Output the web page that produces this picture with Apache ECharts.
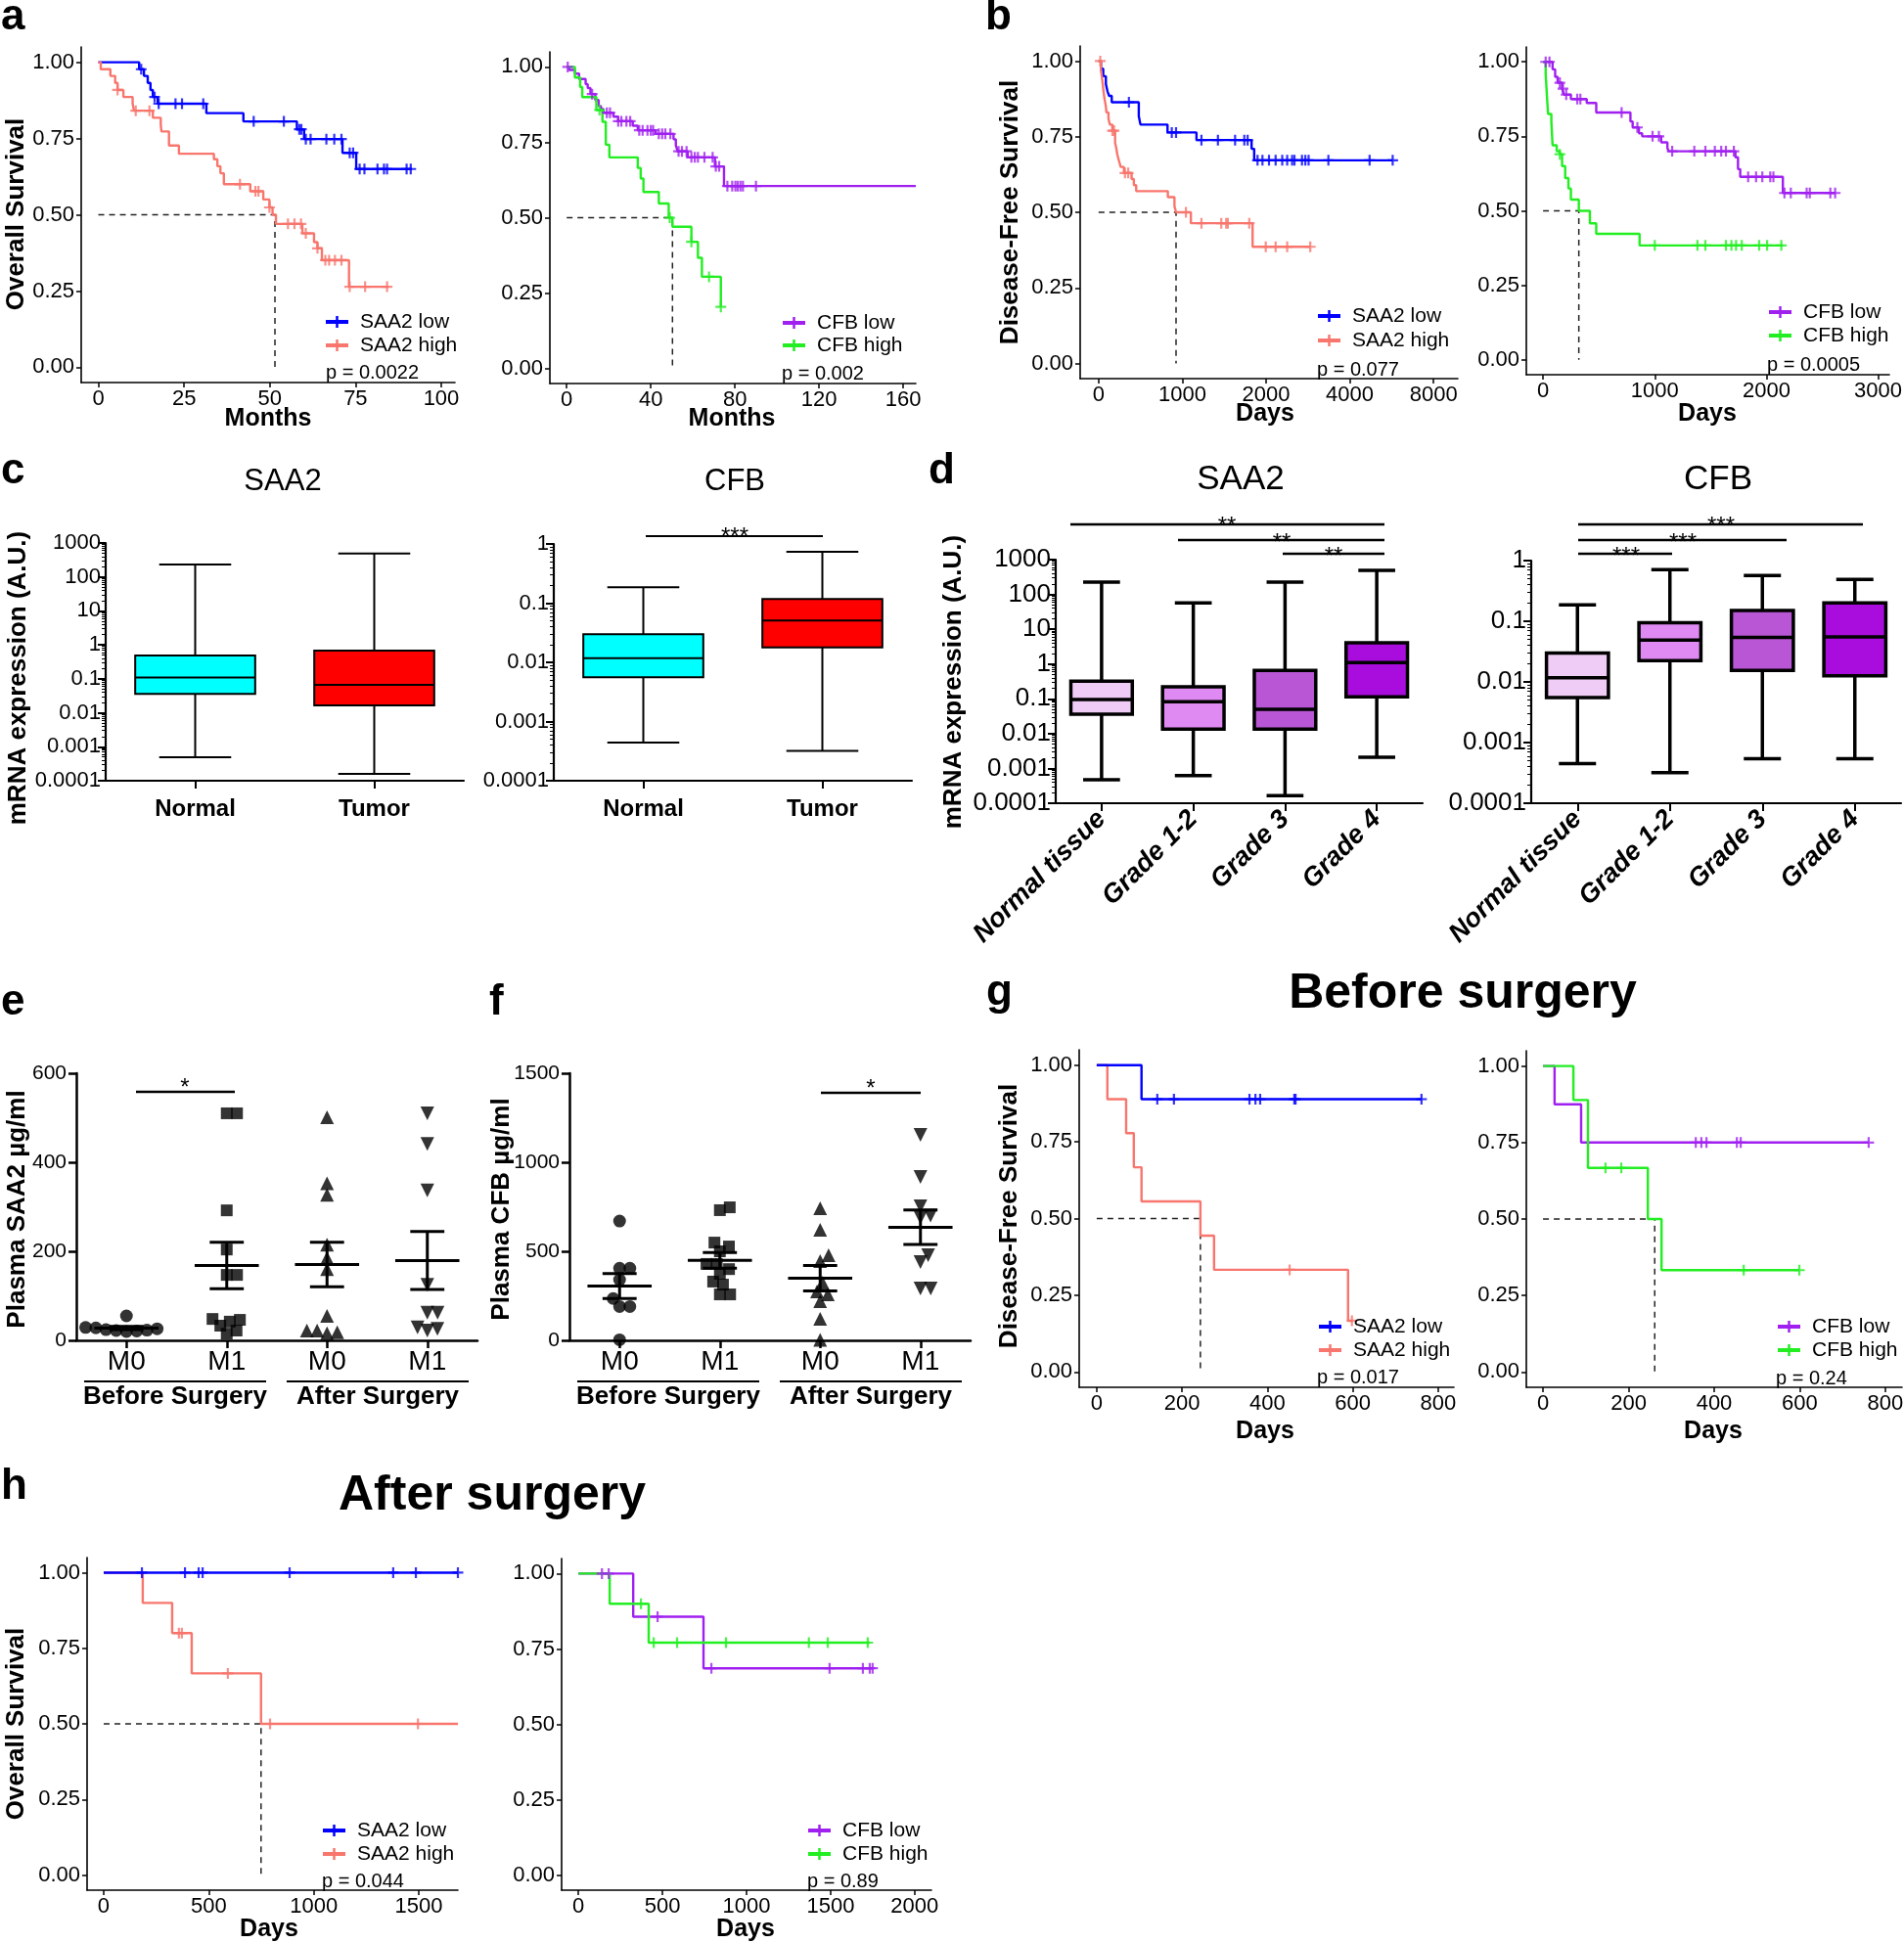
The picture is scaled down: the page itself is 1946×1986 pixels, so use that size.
<!DOCTYPE html>
<html>
<head>
<meta charset="utf-8">
<script src="https://cdn.jsdelivr.net/npm/echarts@6/dist/echarts.min.js"></script>
<style>
  html, body { margin: 0; background: #fff; }
  #chart { width: 1946px; height: 1986px; }
</style>
</head>
<body>
<div id="chart"></div>
<script>
const FONT = "'Liberation Sans', Arial, Helvetica, sans-serif"
const BLUE = '#0000ff', SALMON = '#f8766d', PURPLE = '#a020f0', GREEN = '#22ee22'

// ---- tick values / labels ----
const kmYTicks = [0, 0.25, 0.5, 0.75, 1]
const aLeftXTicks = [0, 25, 50, 75, 100]
const aRightXTicks = [0, 40, 80, 120, 160]
const bLeftXTicks = [0, 1000, 2000, 3000, 4000]
const bLeftXLabels = ['0', '1000', '2000', '4000', '8000']
const bRightXTicks = [0, 1000, 2000, 3000]
const gXTicks = [0, 200, 400, 600, 800]
const hLeftXTicks = [0, 500, 1000, 1500]
const hRightXTicks = [0, 500, 1000, 1500, 2000]
const saa2LogLabels = ['0.0001', '0.001', '0.01', '0.1', '1', '10', '100', '1000']
const cfbLogLabels = ['0.0001', '0.001', '0.01', '0.1', '1']

// ---- a: overall survival (months) ----
const aSaaLowTime = [0, 11.9, 13.3, 14.4, 15.2, 15.9, 17.3, 31.5, 42.3, 57.9, 60.0, 71.2, 75.2]
const aSaaLowSurv = [1, 0.977, 0.955, 0.932, 0.909, 0.886, 0.864, 0.833, 0.806, 0.78, 0.748, 0.703, 0.65]
const aSaaLowEnd = 91.4
const aSaaLowCensor = [12.5, 16.4, 17.6, 22.5, 24.4, 30.6, 45.3, 54.1, 58.6, 59.2, 60.5, 61.9, 66.5, 68.8, 70.9, 73.3, 74.3, 76.2, 77.6, 81.4, 83.3, 84.2, 89.9, 91.1]
const aSaaHighTime = [0, 0.7, 3.5, 4.9, 5.6, 7.3, 10.0, 10.4, 15.9, 18.2, 18.4, 20.6, 23.5, 33.7, 34.7, 35.6, 36.6, 44.3, 48.1, 49.9, 50.8, 51.8, 59.5, 62.9, 63.9, 65.2, 73.1]
const aSaaHighSurv = [1, 0.977, 0.955, 0.932, 0.909, 0.886, 0.864, 0.841, 0.818, 0.795, 0.773, 0.727, 0.70, 0.682, 0.659, 0.636, 0.60, 0.577, 0.55, 0.524, 0.50, 0.47, 0.439, 0.41, 0.39, 0.351, 0.264]
const aSaaHighEnd = 84.7
const aSaaHighCensor = [5.6, 10.9, 14.9, 41.3, 45.8, 46.7, 49.9, 55.3, 57.2, 59.1, 60.5, 63.9, 66.2, 67.3, 69.0, 70.9, 73.3, 77.8, 84.2]
const aSaaMedian = 51.5

const aCfbLowTime = [0, 1.2, 3.9, 5.9, 9.0, 10.0, 11.3, 13.6, 15.2, 16.3, 17.5, 22.2, 24.5, 31.4, 33.8, 42.3, 50.8, 51.9, 52.8, 57.5, 70.5, 74.8]
const aCfbLowSurv = [1, 0.99, 0.978, 0.96, 0.943, 0.93, 0.91, 0.89, 0.87, 0.86, 0.848, 0.835, 0.82, 0.805, 0.79, 0.778, 0.76, 0.74, 0.72, 0.70, 0.67, 0.605]
const aCfbLowEnd = 166
const aCfbLowCensor = [0.5, 12.1, 19.1, 20.6, 24.5, 26.0, 28.4, 30.2, 34.5, 36.1, 38.4, 40.0, 41.1, 43.8, 45.4, 46.9, 49.3, 53.2, 54.8, 57.0, 59.3, 60.9, 62.4, 65.5, 69.4, 70.9, 72.5, 76.4, 78.7, 80.2, 81.3, 82.6, 83.8, 90.0]
const aCfbHighTime = [0, 3.9, 6.4, 7.4, 14.1, 17.0, 18.6, 20.3, 33.8, 35.2, 36.5, 43.8, 48.5, 50.3, 59.3, 62.4, 64.3, 73.3]
const aCfbHighSurv = [1, 0.965, 0.933, 0.9, 0.857, 0.818, 0.742, 0.70, 0.665, 0.63, 0.585, 0.547, 0.5, 0.47, 0.42, 0.367, 0.304, 0.204]
const aCfbHighEnd = 73.3
const aCfbHighCensor = [15.6, 49.0, 59.3, 67.7, 73.3]
const aCfbMedian = 50.3

// ---- b: disease-free survival (days) ----
const bSaaLowTime = [0, 28, 55, 87, 106, 126, 157, 480, 500, 823, 1169, 1827, 1858]
const bSaaLowSurv = [1, 0.975, 0.95, 0.925, 0.9, 0.885, 0.864, 0.818, 0.79, 0.764, 0.739, 0.71, 0.672]
const bSaaLowEnd = 3512
const bSaaLowCensor = [362, 874, 925, 1228, 1425, 1630, 1740, 1780, 1898, 1957, 2035, 2114, 2193, 2252, 2311, 2339, 2429, 2469, 2508, 2744, 3236, 3512]
const bSaaHighTime = [0, 28, 39, 47, 59, 71, 87, 94, 118, 134, 165, 197, 213, 224, 244, 264, 303, 394, 421, 449, 827, 906, 925, 1102, 1839]
const bSaaHighSurv = [1, 0.97, 0.95, 0.93, 0.9, 0.875, 0.85, 0.83, 0.81, 0.79, 0.77, 0.73, 0.71, 0.69, 0.67, 0.65, 0.63, 0.61, 0.59, 0.57, 0.55, 0.52, 0.50, 0.464, 0.386]
const bSaaHighEnd = 2528
const bSaaHighCensor = [20, 165, 185, 315, 354, 1043, 1228, 1465, 1524, 1543, 1799, 1996, 2114, 2252, 2528]
const bSaaMedian = 925

const bCfbLowTime = [0, 85, 108, 130, 170, 187, 249, 391, 476, 782, 802, 858, 887, 1057, 1113, 1127, 1722, 1745, 1765, 2147]
const bCfbLowSurv = [1, 0.975, 0.95, 0.93, 0.91, 0.89, 0.875, 0.862, 0.83, 0.80, 0.78, 0.76, 0.75, 0.73, 0.71, 0.70, 0.68, 0.64, 0.614, 0.56]
const bCfbLowEnd = 2615
const bCfbLowCensor = [23, 57, 150, 178, 207, 306, 334, 703, 844, 980, 1037, 1156, 1354, 1453, 1538, 1595, 1637, 1708, 1836, 1907, 1963, 2034, 2062, 2161, 2218, 2360, 2388, 2572, 2615]
const bCfbHighTime = [0, 23, 37, 45, 74, 85, 122, 150, 170, 198, 227, 249, 320, 419, 476, 864]
const bCfbHighSurv = [1, 0.96, 0.87, 0.825, 0.80, 0.72, 0.70, 0.69, 0.65, 0.61, 0.575, 0.538, 0.50, 0.458, 0.423, 0.384]
const bCfbHighEnd = 2147
const bCfbHighCensor = [150, 1000, 1382, 1453, 1637, 1686, 1728, 1779, 1935, 2006, 2133]
const bCfbMedian = 320

// ---- c / d: mRNA expression boxes [min, q1, median, q3, max] ----
const tissueCategories = ['Normal', 'Tumor']
const cSaa2Box = [[0.00049, 0.036, 0.11, 0.49, 234], [0.00016, 0.0166, 0.066, 0.68, 490]]
const cCfbBox = [[0.00044, 0.0056, 0.0118, 0.030, 0.186], [0.00032, 0.0178, 0.051, 0.118, 0.74]]
const gradeCategories = ['Normal tissue', 'Grade 1-2', 'Grade 3', 'Grade 4']
const dSaa2Box = [[0.00047, 0.036, 0.095, 0.32, 224], [0.00062, 0.0135, 0.083, 0.22, 57], [0.000165, 0.0135, 0.05, 0.66, 224], [0.0021, 0.115, 1.1, 4.1, 490]]
const dCfbBox = [[0.00045, 0.0055, 0.0117, 0.030, 0.186], [0.00032, 0.0224, 0.049, 0.095, 0.71], [0.00054, 0.0155, 0.054, 0.15, 0.57], [0.00054, 0.0126, 0.055, 0.20, 0.49]]

// ---- e / f: plasma levels (µg/ml) ----
const dotCategories = ['M0', 'M1', 'M0', 'M1']
const eBeforeM0 = [29, 24, 21, 55, 20, 22, 23, 26, 28]
const eBeforeM1 = [510, 510, 292, 204, 147, 147, 46, 33, 15, 22, 42, 48]
const eAfterM0 = [501, 327, 353, 215, 185, 160, 55, 22, 16, 18, 22]
const eAfterM1 = [510, 441, 337, 125, 62, 62, 29, 22, 26]
const fBeforeM0 = [670, 405, 405, 340, 190, 190, 235, 3]
const fBeforeM1 = [747, 731, 549, 527, 500, 429, 429, 400, 374, 313, 330, 258, 258]
const fAfterM0 = [742, 621, 478, 445, 324, 275, 258, 220, 121, 3]
const fAfterM1 = [1154, 918, 753, 700, 690, 478, 440, 291, 291]

// ---- g: before surgery, DFS (days) ----
const gSaaLowTime = [0, 105]
const gSaaLowSurv = [1, 0.889]
const gSaaLowEnd = 761
const gSaaLowCensor = [142, 181, 358, 372, 383, 463, 466, 761]
const gSaaHighTime = [0, 25, 69, 87, 105, 243, 275, 589]
const gSaaHighSurv = [1, 0.889, 0.778, 0.667, 0.556, 0.444, 0.333, 0.167]
const gSaaHighEnd = 600
const gSaaHighCensor = [452, 598]
const gSaaMedian = 243
const gCfbLowTime = [0, 27, 89]
const gCfbLowSurv = [1, 0.875, 0.75]
const gCfbLowEnd = 761
const gCfbLowCensor = [357, 370, 382, 453, 462, 761]
const gCfbHighTime = [0, 71, 105, 245, 277]
const gCfbHighSurv = [1, 0.889, 0.667, 0.5, 0.333]
const gCfbHighEnd = 599
const gCfbHighCensor = [146, 183, 469, 599]
const gCfbMedian = 261

// ---- h: after surgery, OS (days) ----
const hSaaLowTime = [0]
const hSaaLowSurv = [1]
const hSaaLowEnd = 1686
const hSaaLowCensor = [182, 387, 452, 471, 885, 1378, 1486, 1686]
const hSaaHighTime = [0, 186, 326, 419, 749]
const hSaaHighSurv = [1, 0.9, 0.8, 0.667, 0.5]
const hSaaHighEnd = 1686
const hSaaHighCensor = [358, 372, 591, 792, 1496]
const hSaaMedian = 749
const hCfbLowTime = [0, 326, 744]
const hCfbLowSurv = [1, 0.857, 0.686]
const hCfbLowEnd = 1750
const hCfbLowCensor = [140, 180, 471, 791, 1494, 1692, 1733, 1750]
const hCfbHighTime = [0, 186, 418]
const hCfbHighSurv = [1, 0.9, 0.771]
const hCfbHighEnd = 1733
const hCfbHighCensor = [372, 448, 587, 878, 1371, 1483, 1721]

// layout of the 14 plotting areas
const grids = [
  { left: 83, top: 48, width: 382, height: 343 },    // a left
  { left: 562, top: 53, width: 374, height: 339 },   // a right
  { left: 1104, top: 47, width: 386, height: 340 },  // b left
  { left: 1560, top: 48, width: 371, height: 335 },  // b right
  { left: 108, top: 555, width: 366, height: 243 },  // c left
  { left: 566, top: 556, width: 366, height: 242 },  // c right
  { left: 1079, top: 572, width: 375, height: 249 }, // d left
  { left: 1565, top: 573, width: 378, height: 248 }, // d right
  { left: 78, top: 1097, width: 410, height: 273 },  // e
  { left: 582, top: 1097, width: 410, height: 273 }, // f
  { left: 1103, top: 1073, width: 383, height: 345 },// g left
  { left: 1560, top: 1074, width: 384, height: 344 },// g right
  { left: 89, top: 1592, width: 379, height: 340 },  // h left
  { left: 574, top: 1593, width: 378, height: 339 }  // h right
]

const xAxes = [], yAxes = [], series = [], graphics = []
const PLUS = 'path://M4,0H6V4H10V6H6V10H4V6H0V4H4Z'
const axisLine = w => ({ show: true, onZero: false, lineStyle: { color: '#000', width: w } })
const tickStyle = w => ({ color: '#000', width: w })

// ---- helpers ----
function kmAxes(gi, xmin, xmax, xticks, xlabels) {
  xAxes.push({
    gridIndex: gi, type: 'value', min: xmin, max: xmax,
    axisLine: axisLine(1.6),
    axisTick: { show: true, customValues: xticks, length: 5, lineStyle: tickStyle(1.5) },
    axisLabel: {
      customValues: xticks, fontSize: 22, fontFamily: FONT, color: '#000', margin: 6,
      formatter: v => {
        const k = xticks.indexOf(v)
        return xlabels && k >= 0 ? xlabels[k] : String(v)
      }
    },
    splitLine: { show: false }
  })
  yAxes.push({
    gridIndex: gi, type: 'value', min: -0.05, max: 1.05,
    axisLine: axisLine(1.6),
    axisTick: { show: true, customValues: kmYTicks, length: 5, lineStyle: tickStyle(1.5) },
    axisLabel: { customValues: kmYTicks, fontSize: 22, fontFamily: FONT, color: '#000', margin: 7, formatter: v => v.toFixed(2) },
    splitLine: { show: false }
  })
}

function kmLine(time, surv, end) {
  const pts = time.map((t, i) => [t, surv[i]])
  pts.push([end, surv[surv.length - 1]])
  return pts
}

function survAt(time, surv, t) {
  let s = surv[0]
  for (let i = 0; i < time.length; i++) if (time[i] <= t) s = surv[i]
  return s
}

function kmCurve(gi, time, surv, end, censor, color) {
  series.push({
    type: 'line', xAxisIndex: gi, yAxisIndex: gi, data: kmLine(time, surv, end), step: 'end',
    showSymbol: false, lineStyle: { color, width: 2.4 }, itemStyle: { color }, z: 3, silent: true
  })
  series.push({
    type: 'scatter', xAxisIndex: gi, yAxisIndex: gi, data: censor.map(t => [t, survAt(time, surv, t)]),
    symbol: PLUS, symbolSize: 11, itemStyle: { color }, z: 4, silent: true
  })
}

function medianLine(gi, m) {
  series.push({
    type: 'line', xAxisIndex: gi, yAxisIndex: gi, data: [[0, 0.5], [m, 0.5], [m, 0]],
    showSymbol: false, lineStyle: { color: '#222', width: 1.5, type: [6, 5] }, z: 2, silent: true
  })
}

function T(x, y, text, size, o = {}) {
  graphics.push({
    type: 'text', x, y, rotation: o.rot || 0, silent: true, z: 10,
    style: {
      text, fontSize: size, fontFamily: FONT, fontWeight: o.bold ? 'bold' : 'normal',
      fontStyle: o.italic ? 'italic' : 'normal', fill: '#000',
      align: o.align || 'center', textAlign: o.align || 'center',
      verticalAlign: 'middle', textVerticalAlign: 'middle'
    }
  })
}

function L(x1, y1, x2, y2, w = 2, color = '#000') {
  graphics.push({ type: 'line', silent: true, z: 10, shape: { x1, y1, x2, y2 }, style: { stroke: color, lineWidth: w } })
}

function kmLegend(x, yA, yB, cA, cB, labA, labB, px, py, ptxt) {
  [[yA, cA, labA], [yB, cB, labB]].forEach(([y, c, lab]) => {
    L(x, y, x + 23, y, 4, c)
    L(x + 11.5, y - 6, x + 11.5, y + 6, 2.5, c)
    T(x + 35, y, lab, 21, { align: 'left' })
  })
  T(px, py, ptxt, 20, { align: 'left' })
}

function boxAxes(gi, cats, ymax, labels, rotated) {
  xAxes.push({
    gridIndex: gi, type: 'category', data: cats,
    axisLine: axisLine(2.2),
    axisTick: { show: true, alignWithLabel: true, length: 8, lineStyle: tickStyle(2) },
    axisLabel: rotated
      ? { interval: 0, rotate: 45, fontSize: 27, fontWeight: 'bold', fontStyle: 'italic', fontFamily: FONT, color: '#000', margin: 12 }
      : { interval: 0, fontSize: 24, fontWeight: 'bold', fontFamily: FONT, color: '#000', margin: 17 },
    splitLine: { show: false }
  })
  yAxes.push({
    gridIndex: gi, type: 'log', logBase: 10, min: 0.0001, max: ymax,
    axisLine: axisLine(2.2),
    axisTick: { show: true, length: 8, lineStyle: tickStyle(2) },
    minorTick: { show: true, splitNumber: 9, length: 4, lineStyle: tickStyle(1) },
    axisLabel: { fontSize: rotated ? 26 : 22, fontFamily: FONT, color: '#000', margin: 5, formatter: v => labels[Math.round(Math.log10(v)) + 4] },
    splitLine: { show: false }, minorSplitLine: { show: false }
  })
}

function boxSeries(gi, boxes, colors, lw) {
  series.push({
    type: 'custom', xAxisIndex: gi, yAxisIndex: gi,
    data: boxes.map((b, i) => [i].concat(b)),
    encode: { x: 0, y: [1, 2, 3, 4, 5] },
    silent: true, z: 3,
    renderItem: (params, api) => {
      const i = api.value(0)
      const pMin = api.coord([i, api.value(1)])
      const pQ1 = api.coord([i, api.value(2)])
      const pMed = api.coord([i, api.value(3)])
      const pQ3 = api.coord([i, api.value(4)])
      const pMax = api.coord([i, api.value(5)])
      const band = api.size([1, 1])[0]
      const w = band * 0.67, cw = w * 0.6, x = pMed[0]
      const st = { stroke: '#000', lineWidth: lw }
      return {
        type: 'group', children: [
          { type: 'line', shape: { x1: x, y1: pMax[1], x2: x, y2: pQ3[1] }, style: st },
          { type: 'line', shape: { x1: x, y1: pQ1[1], x2: x, y2: pMin[1] }, style: st },
          { type: 'line', shape: { x1: x - cw / 2, y1: pMax[1], x2: x + cw / 2, y2: pMax[1] }, style: st },
          { type: 'line', shape: { x1: x - cw / 2, y1: pMin[1], x2: x + cw / 2, y2: pMin[1] }, style: st },
          { type: 'rect', shape: { x: x - w / 2, y: pQ3[1], width: w, height: pQ1[1] - pQ3[1] }, style: { fill: colors[i], stroke: '#000', lineWidth: lw } },
          { type: 'line', shape: { x1: x - w / 2, y1: pMed[1], x2: x + w / 2, y2: pMed[1] }, style: st }
        ]
      }
    }
  })
}

function dotAxes(gi, ymax, step) {
  xAxes.push({
    gridIndex: gi, type: 'category', data: dotCategories,
    axisLine: axisLine(2.5),
    axisTick: { show: true, alignWithLabel: true, length: 8, lineStyle: tickStyle(2.5) },
    axisLabel: { interval: 0, fontSize: 28, fontFamily: FONT, color: '#000', margin: 8 },
    splitLine: { show: false }
  })
  yAxes.push({
    gridIndex: gi, type: 'value', min: 0, max: ymax, interval: step,
    axisLine: axisLine(2.5),
    axisTick: { show: true, length: 8, lineStyle: tickStyle(2.5) },
    axisLabel: { fontSize: 21, fontFamily: FONT, color: '#000', margin: 10, formatter: v => String(v) },
    splitLine: { show: false }
  })
}

// simple beeswarm: spread points sideways so markers don't overlap
function swarm(vals, pxPerUnit, size) {
  const order = vals.map((v, i) => i).sort((a, b) => vals[a] - vals[b])
  const placed = [], off = new Array(vals.length).fill(0)
  order.forEach(i => {
    const y = vals[i] * pxPerUnit
    const near = placed.filter(p => Math.abs(p.y - y) < size)
    const cands = [0]
    near.forEach(p => {
      const d = Math.sqrt(size * size - (p.y - y) * (p.y - y))
      cands.push(p.x + d, p.x - d)
    })
    cands.sort((a, b) => Math.abs(a) - Math.abs(b))
    const x = cands.find(c => near.every(p => Math.hypot(p.x - c, p.y - y) >= size - 0.01))
    off[i] = x
    placed.push({ x, y })
  })
  return off
}

function meanSem(vals) {
  const n = vals.length
  const m = vals.reduce((a, b) => a + b, 0) / n
  const sd = Math.sqrt(vals.reduce((a, b) => a + (b - m) * (b - m), 0) / (n - 1))
  return [m, sd / Math.sqrt(n)]
}

function semRender(params, api) {
  const k = api.value(0), m = api.value(1), s = api.value(2)
  const pm = api.coord([k, m]), pt = api.coord([k, m + s]), pb = api.coord([k, m - s])
  const band = api.size([1, 0])[0]
  const mw = band * 0.32, cw = band * 0.17
  const st = { stroke: '#000', lineWidth: 3 }
  return {
    type: 'group', children: [
      { type: 'line', shape: { x1: pm[0] - mw, y1: pm[1], x2: pm[0] + mw, y2: pm[1] }, style: st },
      { type: 'line', shape: { x1: pm[0], y1: pt[1], x2: pm[0], y2: pb[1] }, style: st },
      { type: 'line', shape: { x1: pm[0] - cw, y1: pt[1], x2: pm[0] + cw, y2: pt[1] }, style: st },
      { type: 'line', shape: { x1: pm[0] - cw, y1: pb[1], x2: pm[0] + cw, y2: pb[1] }, style: st }
    ]
  }
}

const dotSymbols = ['circle', 'rect', 'triangle', 'triangle']
const dotRotate = [0, 0, 0, 180]
const dotSizes = [13, 12, 14, 14]

function dotGroup(gi, k, vals, pxPerUnit) {
  const off = swarm(vals, pxPerUnit, 10.5)
  series.push({
    type: 'scatter', xAxisIndex: gi, yAxisIndex: gi, symbol: dotSymbols[k], symbolRotate: dotRotate[k],
    symbolSize: dotSizes[k], itemStyle: { color: '#000' }, z: 3, silent: true,
    data: vals.map((v, i) => ({ value: [k, v], symbolOffset: [off[i], 0] }))
  })
  series.push({
    type: 'custom', xAxisIndex: gi, yAxisIndex: gi, data: [[k].concat(meanSem(vals))],
    encode: { x: 0, y: 1 }, renderItem: semRender, z: 4, silent: true
  })
}

// ---- a ----
kmAxes(0, -5, 104, aLeftXTicks)
medianLine(0, aSaaMedian)
kmCurve(0, aSaaLowTime, aSaaLowSurv, aSaaLowEnd, aSaaLowCensor, BLUE)
kmCurve(0, aSaaHighTime, aSaaHighSurv, aSaaHighEnd, aSaaHighCensor, SALMON)
kmAxes(1, -8, 166, aRightXTicks)
medianLine(1, aCfbMedian)
kmCurve(1, aCfbLowTime, aCfbLowSurv, aCfbLowEnd, aCfbLowCensor, PURPLE)
kmCurve(1, aCfbHighTime, aCfbHighSurv, aCfbHighEnd, aCfbHighCensor, GREEN)

// ---- b ----
kmAxes(2, -220, 4290, bLeftXTicks, bLeftXLabels)
medianLine(2, bSaaMedian)
kmCurve(2, bSaaLowTime, bSaaLowSurv, bSaaLowEnd, bSaaLowCensor, BLUE)
kmCurve(2, bSaaHighTime, bSaaHighSurv, bSaaHighEnd, bSaaHighCensor, SALMON)
kmAxes(3, -150, 3100, bRightXTicks)
medianLine(3, bCfbMedian)
kmCurve(3, bCfbLowTime, bCfbLowSurv, bCfbLowEnd, bCfbLowCensor, PURPLE)
kmCurve(3, bCfbHighTime, bCfbHighSurv, bCfbHighEnd, bCfbHighCensor, GREEN)

// ---- c ----
boxAxes(4, tissueCategories, 1000, saa2LogLabels, false)
boxSeries(4, cSaa2Box, ['#00ffff', '#ff0000'], 2)
boxAxes(5, tissueCategories, 1, cfbLogLabels, false)
boxSeries(5, cCfbBox, ['#00ffff', '#ff0000'], 2)

// ---- d ----
const gradeColors = ['#efccf5', '#de8af2', '#b856d5', '#a80dde']
boxAxes(6, gradeCategories, 1000, saa2LogLabels, true)
boxSeries(6, dSaa2Box, gradeColors, 3.5)
boxAxes(7, gradeCategories, 1, cfbLogLabels, true)
boxSeries(7, dCfbBox, gradeColors, 3.5)

// ---- e / f ----
dotAxes(8, 600, 200)
;[eBeforeM0, eBeforeM1, eAfterM0, eAfterM1].forEach((v, k) => dotGroup(8, k, v, 273 / 600))
dotAxes(9, 1500, 500)
;[fBeforeM0, fBeforeM1, fAfterM0, fAfterM1].forEach((v, k) => dotGroup(9, k, v, 273 / 1500))

// ---- g ----
kmAxes(10, -41, 837, gXTicks)
medianLine(10, gSaaMedian)
kmCurve(10, gSaaHighTime, gSaaHighSurv, gSaaHighEnd, gSaaHighCensor, SALMON)
kmCurve(10, gSaaLowTime, gSaaLowSurv, gSaaLowEnd, gSaaLowCensor, BLUE)
kmAxes(11, -39, 839, gXTicks)
medianLine(11, gCfbMedian)
kmCurve(11, gCfbLowTime, gCfbLowSurv, gCfbLowEnd, gCfbLowCensor, PURPLE)
kmCurve(11, gCfbHighTime, gCfbHighSurv, gCfbHighEnd, gCfbHighCensor, GREEN)

// ---- h ----
kmAxes(12, -79, 1686, hLeftXTicks)
medianLine(12, hSaaMedian)
kmCurve(12, hSaaHighTime, hSaaHighSurv, hSaaHighEnd, hSaaHighCensor, SALMON)
kmCurve(12, hSaaLowTime, hSaaLowSurv, hSaaLowEnd, hSaaLowCensor, BLUE)
kmAxes(13, -100, 2100, hRightXTicks)
kmCurve(13, hCfbLowTime, hCfbLowSurv, hCfbLowEnd, hCfbLowCensor, PURPLE)
kmCurve(13, hCfbHighTime, hCfbHighSurv, hCfbHighEnd, hCfbHighCensor, GREEN)

// ---- text: panel letters, titles, axis titles ----
;[['a', 1, 18], ['b', 1007, 18], ['c', 1, 482], ['d', 949, 482], ['e', 1, 1025], ['f', 500, 1025], ['g', 1008, 1015], ['h', 1, 1520]]
  .forEach(([s, x, y]) => T(x, y, s, 44, { bold: true, align: 'left' }))
T(1495, 1016, 'Before surgery', 50, { bold: true })
T(503, 1529, 'After surgery', 50, { bold: true })

const R = Math.PI / 2
T(17, 219, 'Overall Survival', 26, { bold: true, rot: R })
T(274, 428, 'Months', 25, { bold: true })
T(748, 428, 'Months', 25, { bold: true })
T(1033, 217, 'Disease-Free Survival', 26, { bold: true, rot: R })
T(1293, 423, 'Days', 25, { bold: true })
T(1745, 423, 'Days', 25, { bold: true })
T(1032, 1243, 'Disease-Free Survival', 26, { bold: true, rot: R })
T(1293, 1463, 'Days', 25, { bold: true })
T(1751, 1463, 'Days', 25, { bold: true })
T(17, 1762, 'Overall Survival', 26, { bold: true, rot: R })
T(275, 1972, 'Days', 25, { bold: true })
T(762, 1972, 'Days', 25, { bold: true })

T(289, 492, 'SAA2', 31)
T(751, 492, 'CFB', 31)
T(1268, 490, 'SAA2', 35)
T(1756, 490, 'CFB', 35)
T(19, 693, 'mRNA expression (A.U.)', 26, { bold: true, rot: R })
T(975, 697, 'mRNA expression (A.U.)', 26, { bold: true, rot: R })
T(18, 1236, 'Plasma SAA2 µg/ml', 26, { bold: true, rot: R })
T(513, 1236, 'Plasma CFB µg/ml', 26, { bold: true, rot: R })

// group brackets under e / f
;[[86, 272, 'Before Surgery'], [293, 479, 'After Surgery'], [590, 776, 'Before Surgery'], [797, 983, 'After Surgery']]
  .forEach(([x1, x2, s]) => { L(x1, 1412, x2, 1412, 2); T((x1 + x2) / 2, 1428, s, 26, { bold: true }) })

// significance bars
L(660, 548, 841, 548, 2); T(751, 549, '***', 24)
L(1094, 536, 1415, 536, 2.5); T(1254, 538, '**', 24)
L(1204, 552, 1415, 552, 2.5); T(1310, 555, '**', 24)
L(1311, 566, 1415, 566, 2.5); T(1363, 569, '**', 24)
L(1613, 536, 1904, 536, 2.5); T(1759, 538, '***', 24)
L(1613, 552, 1826, 552, 2.5); T(1720, 555, '***', 24)
L(1613, 566, 1709, 566, 2.5); T(1662, 569, '***', 24)
L(139, 1116, 240, 1116, 2.5); T(189, 1112, '*', 24)
L(839, 1117, 941, 1117, 2.5); T(890, 1113, '*', 24)

// KM legends and p values
kmLegend(333, 329, 353, BLUE, SALMON, 'SAA2 low', 'SAA2 high', 333, 381, 'p = 0.0022')
kmLegend(800, 330, 353, PURPLE, GREEN, 'CFB low', 'CFB high', 799, 382, 'p = 0.002')
kmLegend(1347, 323, 348, BLUE, SALMON, 'SAA2 low', 'SAA2 high', 1346, 378, 'p = 0.077')
kmLegend(1808, 319, 343, PURPLE, GREEN, 'CFB low', 'CFB high', 1806, 373, 'p = 0.0005')
kmLegend(1348, 1356, 1380, BLUE, SALMON, 'SAA2 low', 'SAA2 high', 1346, 1408, 'p = 0.017')
kmLegend(1817, 1356, 1380, PURPLE, GREEN, 'CFB low', 'CFB high', 1815, 1409, 'p = 0.24')
kmLegend(330, 1871, 1895, BLUE, SALMON, 'SAA2 low', 'SAA2 high', 329, 1923, 'p = 0.044')
kmLegend(826, 1871, 1895, PURPLE, GREEN, 'CFB low', 'CFB high', 825, 1923, 'p = 0.89')

const chart = echarts.init(document.getElementById('chart'))
chart.setOption({
  animation: false,
  backgroundColor: '#fff',
  textStyle: { fontFamily: FONT },
  grid: grids.map(g => Object.assign({ containLabel: false, outerBoundsMode: 'none' }, g)),
  xAxis: xAxes,
  yAxis: yAxes,
  series,
  graphic: { elements: graphics }
})
</script>
</body>
</html>
